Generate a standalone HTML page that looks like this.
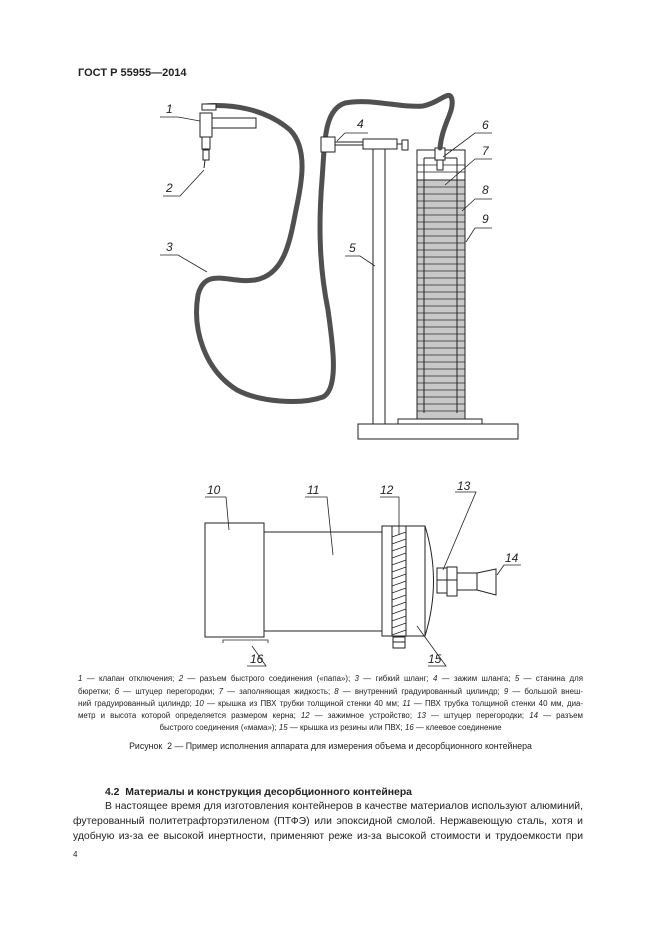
<!DOCTYPE html>
<html><head><meta charset="utf-8"><style>
body{margin:0;background:#fff;}
.p{position:relative;width:661px;height:936px;overflow:hidden;font-family:"Liberation Sans",sans-serif;color:#222;}
.l{position:absolute;white-space:nowrap;}
.j{position:absolute;left:78px;width:505px;text-align:justify;text-align-last:justify;font-size:7.9px;white-space:nowrap;}
.b{position:absolute;font-size:10.4px;white-space:nowrap;}
.bj{position:absolute;left:73px;width:510px;text-align:justify;text-align-last:justify;font-size:10.4px;white-space:nowrap;}
</style></head><body><div class="p">
<div class="l" style="left:78px;top:67px;font-size:11px;font-weight:bold;">ГОСТ Р 55955—2014</div>
<svg width="661" height="936" style="position:absolute;left:0;top:0" font-family="Liberation Sans" font-style="italic" font-size="12" fill="none" stroke="#222" stroke-width="1">
<rect x="417" y="150" width="48" height="269" fill="#fff"/>
<rect x="417" y="180" width="48" height="239" fill="#c8c8c8"/>
<g stroke="#555" stroke-width="0.9">
<line x1="417" y1="165" x2="465" y2="165"/><line x1="417" y1="172" x2="465" y2="172"/>
<line x1="417" y1="187" x2="465" y2="187"/><line x1="417" y1="194" x2="465" y2="194"/><line x1="417" y1="201" x2="465" y2="201"/><line x1="417" y1="208" x2="465" y2="208"/><line x1="417" y1="215" x2="465" y2="215"/><line x1="417" y1="222" x2="465" y2="222"/><line x1="417" y1="229" x2="465" y2="229"/><line x1="417" y1="236" x2="465" y2="236"/><line x1="417" y1="243" x2="465" y2="243"/><line x1="417" y1="250" x2="465" y2="250"/><line x1="417" y1="257" x2="465" y2="257"/><line x1="417" y1="264" x2="465" y2="264"/><line x1="417" y1="271" x2="465" y2="271"/><line x1="417" y1="278" x2="465" y2="278"/><line x1="417" y1="285" x2="465" y2="285"/><line x1="417" y1="292" x2="465" y2="292"/><line x1="417" y1="299" x2="465" y2="299"/><line x1="417" y1="306" x2="465" y2="306"/><line x1="417" y1="313" x2="465" y2="313"/><line x1="417" y1="320" x2="465" y2="320"/><line x1="417" y1="327" x2="465" y2="327"/><line x1="417" y1="334" x2="465" y2="334"/><line x1="417" y1="341" x2="465" y2="341"/><line x1="417" y1="348" x2="465" y2="348"/><line x1="417" y1="355" x2="465" y2="355"/><line x1="417" y1="362" x2="465" y2="362"/><line x1="417" y1="369" x2="465" y2="369"/><line x1="417" y1="376" x2="465" y2="376"/><line x1="417" y1="383" x2="465" y2="383"/><line x1="417" y1="390" x2="465" y2="390"/><line x1="417" y1="397" x2="465" y2="397"/><line x1="417" y1="404" x2="465" y2="404"/><line x1="417" y1="411" x2="465" y2="411"/>
</g>
<line x1="424" y1="158" x2="424" y2="413"/><line x1="457" y1="158" x2="457" y2="413"/>
<line x1="424" y1="158" x2="457" y2="158"/>
<rect x="417" y="150" width="48" height="269"/>
<rect x="435" y="148" width="10" height="12" fill="#fff"/>
<rect x="437" y="160" width="6" height="10" fill="#fff"/>
<rect x="373" y="149" width="12" height="275" fill="#fff"/>
<rect x="398" y="419" width="84" height="5" fill="#fff"/>
<rect x="358" y="424" width="160" height="15" fill="#fff"/>
<line x1="335" y1="142" x2="363" y2="142"/><line x1="335" y1="145" x2="363" y2="145"/>
<rect x="363" y="139" width="34" height="10" fill="#fff"/>
<line x1="397" y1="144" x2="402" y2="144"/>
<rect x="402" y="140" width="6" height="10" fill="#fff"/>
<path d="M205,106 C230,104 265,108 290,130 C310,150 300,190 296,210 C290,240 285,275 255,280 C230,284 205,266 198,295 C192,330 205,370 237,390 C260,402 300,405 323,397 C340,388 332,340 328,310 C320,270 318,230 322,180 C325,140 324,110 345,103 C370,98 400,108 423,106 C440,103 450,88 452,100 C454,112 442,125 440,148" stroke="#505050" stroke-width="5" stroke-linecap="round"/>
<rect x="321" y="137" width="14" height="15" fill="#fff"/>
<rect x="202" y="104" width="14" height="6" fill="#fff"/>
<rect x="200" y="113" width="12" height="24" fill="#fff"/>
<rect x="212" y="118" width="44" height="10" fill="#fff"/>
<rect x="202" y="137" width="8" height="12" fill="#fff"/>
<rect x="203" y="150" width="6" height="10" fill="#fff"/>
<line x1="205" y1="160" x2="204" y2="168"/>
<g stroke-width="0.8">
<path d="M160,117 H178 L200,121"/><path d="M163,196 H180 L204,170"/>
<path d="M160,255 H178 L207,272"/><path d="M337,141 L345,133 H368"/>
<path d="M345,256 H360 L375,266"/><path d="M443,157 L475,133 H492"/>
<path d="M445,185 L475,159 H492"/><path d="M462,211 L475,199 H492"/>
<path d="M466,242 L475,228 H492"/>
</g>
<g fill="#222" stroke="none">
<text x="166" y="113">1</text><text x="166" y="192">2</text><text x="166" y="251">3</text>
<text x="357" y="128">4</text><text x="349" y="252">5</text><text x="482" y="129">6</text>
<text x="482" y="155">7</text><text x="482" y="194">8</text><text x="482" y="223">9</text>
</g>
<rect x="205" y="523" width="59" height="114"/>
<rect x="264" y="532" width="118" height="99"/>
<rect x="382" y="526" width="43" height="110" fill="#fff"/>
<path d="M425,526 Q442,581 425,636"/>
<line x1="392" y1="526" x2="392" y2="636"/><line x1="406" y1="526" x2="406" y2="636"/>
<g stroke-width="0.7"><path d="M392,537 L406,532 M392,544 L406,539 M392,551 L406,546 M392,558 L406,553 M392,565 L406,560 M392,572 L406,567 M392,579 L406,574 M392,586 L406,581 M392,593 L406,588 M392,600 L406,595 M392,607 L406,602 M392,614 L406,609 M392,621 L406,616 M392,628 L406,623 M392,635 L406,630"/></g>
<rect x="393" y="637" width="12" height="11"/><line x1="393" y1="642" x2="405" y2="642"/>
<rect x="437" y="568" width="10" height="25"/><rect x="447" y="567" width="10" height="29"/>
<line x1="437" y1="580" x2="457" y2="580"/>
<rect x="457" y="573" width="20" height="17"/>
<path d="M477,573 L496,569 L496,595 L477,590"/>
<g stroke-width="0.8">
<path d="M205,497 H226 L229,530"/><path d="M305,497 H327 L333,555"/>
<path d="M380,497 H399 L399,535"/><path d="M455,492 H476 L443,570"/>
<path d="M521,565 H504 L497,575"/><path d="M428,666 H446 L417,626"/>
<path d="M223,643 V640 H268 V643"/><path d="M247,666 H266 L252,646"/>
</g>
<g fill="#222" stroke="none">
<text x="207" y="494">10</text><text x="307" y="494">11</text><text x="380" y="494">12</text>
<text x="457" y="490">13</text><text x="505" y="562">14</text><text x="428" y="663">15</text><text x="250" y="663">16</text>
</g>
</svg>
<div class="j" style="top:674px"><i>1</i> — клапан отключения; <i>2</i> — разъем быстрого соединения («папа»); <i>3</i> — гибкий шланг; <i>4</i> — зажим шланга; <i>5</i> — станина для</div>
<div class="j" style="top:687px">бюретки; <i>6</i> — штуцер перегородки; <i>7</i> — заполняющая жидкость; <i>8</i> — внутренний градуированный цилиндр; <i>9</i> — большой внеш-</div>
<div class="j" style="top:699px">ний градуированный цилиндр; <i>10</i> — крышка из ПВХ трубки толщиной стенки 40 мм; <i>11</i> — ПВХ трубка толщиной стенки 40 мм, диа-</div>
<div class="j" style="top:711px">метр и высота которой определяется размером керна; <i>12</i> — зажимное устройство; <i>13</i> — штуцер перегородки; <i>14</i> — разъем</div>
<div class="l" style="top:723px;left:0;width:661px;text-align:center;font-size:7.9px;">быстрого соединения («мама»); <i>15</i> — крышка из резины или ПВХ; <i>16</i> — клеевое соединение</div>
<div class="l" style="top:741px;left:0;width:661px;text-align:center;font-size:8.8px;">Рисунок&nbsp; 2 — Пример исполнения аппарата для измерения объема и десорбционного контейнера</div>
<div class="b" style="left:105px;top:787px;font-weight:bold;">4.2&nbsp; Материалы и конструкция десорбционного контейнера</div>
<div class="b" style="left:105px;top:801px;width:478px;text-align:justify;text-align-last:justify;">В настоящее время для изготовления контейнеров в качестве материалов используют алюминий,</div>
<div class="bj" style="top:816px">футерованный политетрафторэтиленом (ПТФЭ) или эпоксидной смолой. Нержавеющую сталь, хотя и</div>
<div class="bj" style="top:831px">удобную из-за ее высокой инертности, применяют реже из-за высокой стоимости и трудоемкости при</div>
<div class="l" style="left:73px;top:850px;font-size:8px;">4</div>
</div></body></html>
